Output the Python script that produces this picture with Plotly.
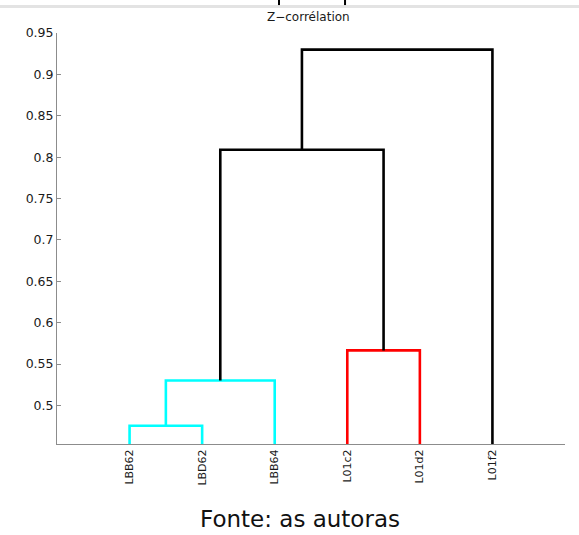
import plotly.graph_objects as go

# ---- data ----
labels = ["LBB62", "LBD62", "LBB64", "L01c2", "L01d2", "L01f2"]
# merges: (child_a, child_b, height, color); node ids >= 6 refer to earlier merges
merge_a = [0, 6, 3, 7, 9]
merge_b = [1, 2, 4, 8, 5]
merge_h = [0.4755, 0.5302, 0.5665, 0.809, 0.930]
merge_c = ["#00ffff", "#00ffff", "#ff0000", "#000000", "#000000"]
y_ticks = [0.5, 0.55, 0.6, 0.65, 0.7, 0.75, 0.8, 0.85, 0.9, 0.95]
y_tick_text = ["0.5", "0.55", "0.6", "0.65", "0.7", "0.75", "0.8", "0.85", "0.9", "0.95"]

n = len(labels)
pos = {i: i + 1 for i in range(n)}
hgt = {i: 0.0 for i in range(n)}

fig = go.Figure()
for k in range(len(merge_h)):
    a, b, h = merge_a[k], merge_b[k], merge_h[k]
    xs = [pos[a], pos[a], pos[b], pos[b]]
    ys = [hgt[a], h, h, hgt[b]]
    fig.add_trace(go.Scatter(x=xs, y=ys, mode="lines",
                             line=dict(color=merge_c[k], width=2.6),
                             hoverinfo="skip", showlegend=False))
    nid = n + k
    pos[nid] = (pos[a] + pos[b]) / 2
    hgt[nid] = h

axis_col = "#8c8c8c"
font_fam = "DejaVu Sans, Verdana, sans-serif"
txt_col = "#1a1a1a"

fig.update_layout(
    width=579, height=535,
    margin=dict(l=57, r=14, t=33, b=91),
    plot_bgcolor="white", paper_bgcolor="white",
    font=dict(family=font_fam, size=12, color=txt_col),
    xaxis=dict(range=[0, n + 1], tickvals=list(range(1, n + 1)), ticktext=labels,
               tickangle=-90, showgrid=False, zeroline=False, showline=True,
               linecolor=axis_col, linewidth=1, ticks="", mirror=False,
               tickfont=dict(family=font_fam, size=11, color=txt_col)),
    yaxis=dict(range=[0.4534, 0.9501], tickvals=y_ticks, ticktext=y_tick_text,
               showgrid=False, zeroline=False, showline=True,
               linecolor=axis_col, linewidth=1, ticks="inside", ticklen=4,
               tickcolor=axis_col,
               tickfont=dict(family=font_fam, size=12.5, color=txt_col)),
    annotations=[
        dict(text="Z−corrélation", x=0.495, y=1.0, xref="paper", yref="paper",
             xanchor="center", yanchor="bottom", yshift=7, showarrow=False,
             font=dict(family=font_fam, size=12, color=txt_col)),
        dict(text="Fonte: as autoras", x=0.478, y=-0.1825, xref="paper", yref="paper",
             xanchor="center", yanchor="middle", showarrow=False,
             font=dict(family=font_fam, size=23, color="#111111")),
    ],
    shapes=[
        dict(type="line", xref="paper", yref="paper", x0=-0.113, x1=1.03,
             y0=1.0645, y1=1.0645, line=dict(color="#e3e3e3", width=3)),
        dict(type="line", xref="paper", yref="paper", x0=0.437, x1=0.437,
             y0=1.068, y1=1.085, line=dict(color="#000000", width=2)),
        dict(type="line", xref="paper", yref="paper", x0=0.567, x1=0.567,
             y0=1.068, y1=1.085, line=dict(color="#000000", width=2)),
    ],
)

fig.write_html("out.html", config={"displayModeBar": False},
               post_script="document.body.style.margin='0';document.body.style.overflow='hidden';")
